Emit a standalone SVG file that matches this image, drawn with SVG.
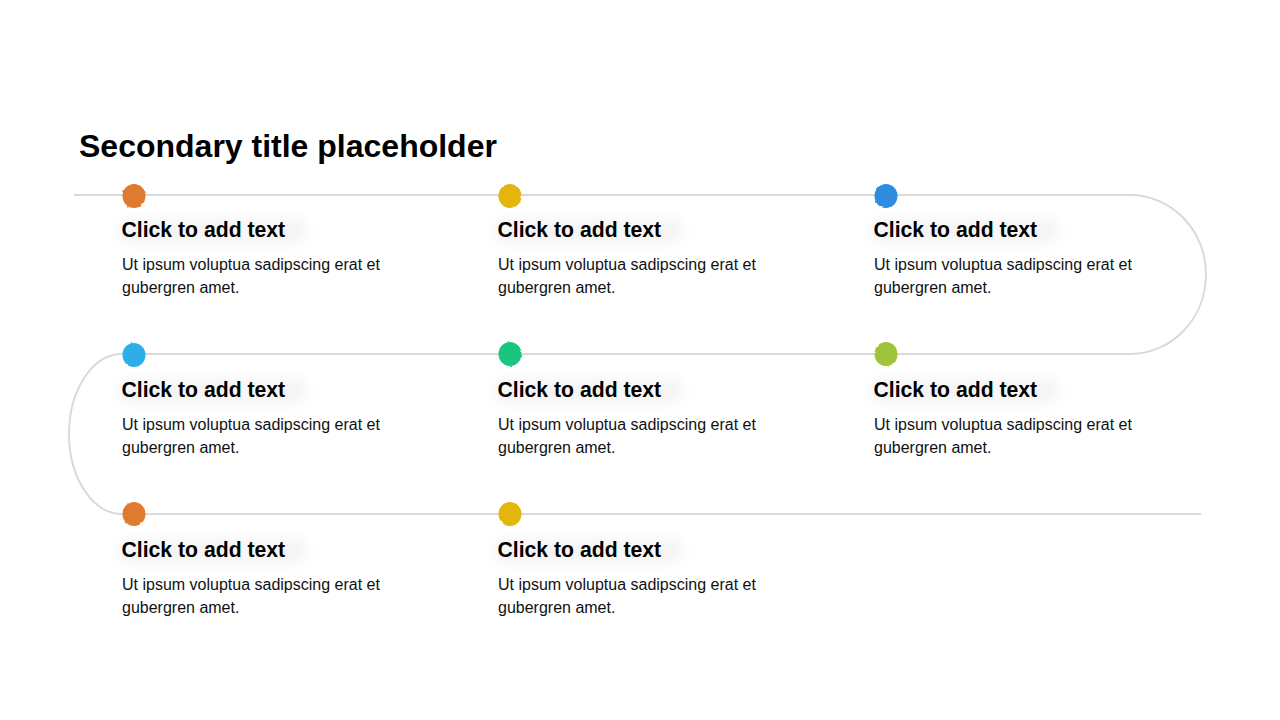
<svg xmlns="http://www.w3.org/2000/svg" width="1280" height="720" viewBox="0 0 1280 720">
<defs>
<filter id="rough" x="-30%" y="-30%" width="160%" height="160%">
<feTurbulence type="fractalNoise" baseFrequency="0.2" numOctaves="2" seed="3" result="n"/>
<feDisplacementMap in="SourceGraphic" in2="n" scale="2.2" xChannelSelector="R" yChannelSelector="G"/>
</filter>
<filter id="glow" x="-20%" y="-50%" width="140%" height="200%">
<feGaussianBlur stdDeviation="6"/>
</filter>
</defs>
<style>
.title{font-family:"Liberation Sans",Arial,sans-serif;font-weight:bold;font-size:32px;fill:#000}
.head{font-family:"Liberation Sans",Arial,sans-serif;font-weight:bold;font-size:21.2px;fill:#000}
.body{font-family:"Liberation Sans",Arial,sans-serif;font-size:16px;fill:#111}
.path{fill:none;stroke:#d9d9d9;stroke-width:2}
.halo{fill:#efefef;opacity:0.6;filter:url(#glow)}
.dot{filter:url(#rough)}
</style>
<rect width="1280" height="720" fill="#fff"/>
<text class="title" x="79" y="157">Secondary title placeholder</text>
<g id="connectors">
<path class="path" d="M74 195 H1130 A76 79.5 0 0 1 1130 354 H122 A53 80 0 0 0 122 514 H1201"/>
</g>
<g id="node1">
<rect class="halo" x="118" y="218" width="190" height="26" rx="10"/>
<ellipse class="dot" cx="134" cy="196" rx="11.5" ry="12" fill="#E07A2E"/>
<text class="head" x="121.5" y="236.5">Click to add text</text>
<text class="body" x="122" y="270">Ut ipsum voluptua sadipscing erat et</text>
<text class="body" x="122" y="293">gubergren amet.</text>
</g>
<g id="node2">
<rect class="halo" x="494" y="218" width="190" height="26" rx="10"/>
<ellipse class="dot" cx="510" cy="196" rx="11.5" ry="12" fill="#E3B511"/>
<text class="head" x="497.5" y="236.5">Click to add text</text>
<text class="body" x="498" y="270">Ut ipsum voluptua sadipscing erat et</text>
<text class="body" x="498" y="293">gubergren amet.</text>
</g>
<g id="node3">
<rect class="halo" x="870" y="218" width="190" height="26" rx="10"/>
<ellipse class="dot" cx="886" cy="196" rx="11.5" ry="12" fill="#2D8CE0"/>
<text class="head" x="873.5" y="236.5">Click to add text</text>
<text class="body" x="874" y="270">Ut ipsum voluptua sadipscing erat et</text>
<text class="body" x="874" y="293">gubergren amet.</text>
</g>
<g id="node4">
<rect class="halo" x="118" y="378" width="190" height="26" rx="10"/>
<ellipse class="dot" cx="134" cy="355" rx="11.5" ry="12" fill="#2FAEE8"/>
<text class="head" x="121.5" y="396.5">Click to add text</text>
<text class="body" x="122" y="430">Ut ipsum voluptua sadipscing erat et</text>
<text class="body" x="122" y="453">gubergren amet.</text>
</g>
<g id="node5">
<rect class="halo" x="494" y="378" width="190" height="26" rx="10"/>
<ellipse class="dot" cx="510" cy="354" rx="11.5" ry="12" fill="#1DC57F"/>
<text class="head" x="497.5" y="396.5">Click to add text</text>
<text class="body" x="498" y="430">Ut ipsum voluptua sadipscing erat et</text>
<text class="body" x="498" y="453">gubergren amet.</text>
</g>
<g id="node6">
<rect class="halo" x="870" y="378" width="190" height="26" rx="10"/>
<ellipse class="dot" cx="886" cy="354" rx="11.5" ry="12" fill="#9DC43A"/>
<text class="head" x="873.5" y="396.5">Click to add text</text>
<text class="body" x="874" y="430">Ut ipsum voluptua sadipscing erat et</text>
<text class="body" x="874" y="453">gubergren amet.</text>
</g>
<g id="node7">
<rect class="halo" x="118" y="538" width="190" height="26" rx="10"/>
<ellipse class="dot" cx="134" cy="514" rx="11.5" ry="12" fill="#E07A2E"/>
<text class="head" x="121.5" y="556.5">Click to add text</text>
<text class="body" x="122" y="590">Ut ipsum voluptua sadipscing erat et</text>
<text class="body" x="122" y="613">gubergren amet.</text>
</g>
<g id="node8">
<rect class="halo" x="494" y="538" width="190" height="26" rx="10"/>
<ellipse class="dot" cx="510" cy="514" rx="11.5" ry="12" fill="#E3B511"/>
<text class="head" x="497.5" y="556.5">Click to add text</text>
<text class="body" x="498" y="590">Ut ipsum voluptua sadipscing erat et</text>
<text class="body" x="498" y="613">gubergren amet.</text>
</g>
</svg>
